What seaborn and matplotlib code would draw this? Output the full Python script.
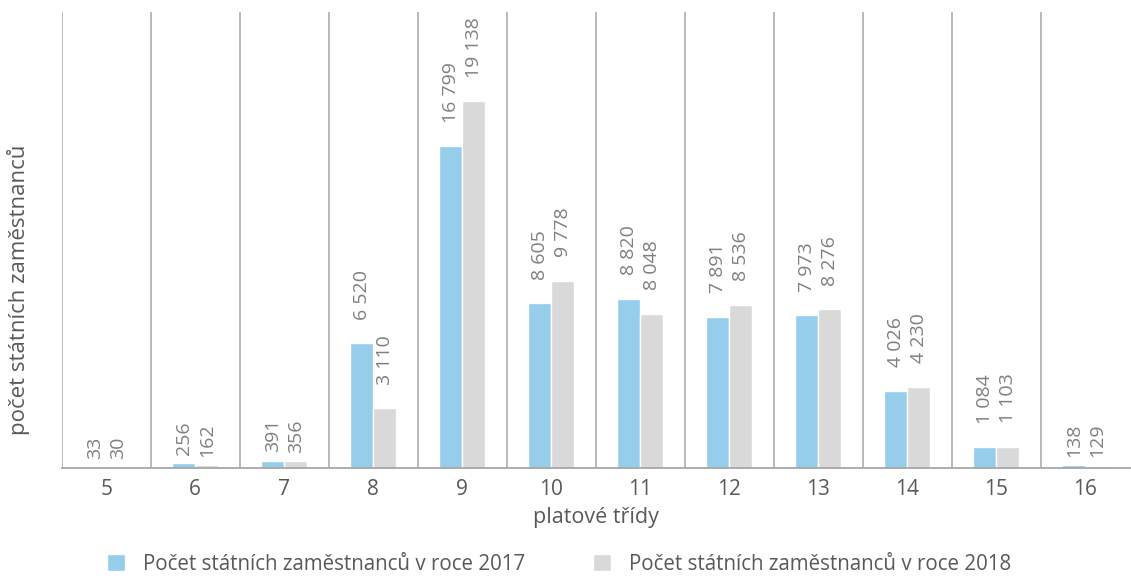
import matplotlib
matplotlib.use("Agg")
import matplotlib.pyplot as plt
import seaborn as sns
import pandas as pd

## data
tridy = ['5', '6', '7', '8', '9', '10', '11', '12', '13', '14', '15', '16']
pocet_2017 = [33, 256, 391, 6520, 16799, 8605, 8820, 7891, 7973, 4026, 1084, 138]
pocet_2018 = [30, 162, 356, 3110, 19138, 9778, 8048, 8536, 8276, 4230, 1103, 129]
serie = ['Počet státních zaměstnanců v roce 2017', 'Počet státních zaměstnanců v roce 2018']

df = pd.DataFrame({
    'trida': tridy * 2,
    'pocet': pocet_2017 + pocet_2018,
    'rok': [serie[0]] * len(tridy) + [serie[1]] * len(tridy),
})

sns.set_style("white")
plt.rcParams['font.family'] = ['Open Sans', 'DejaVu Sans']

text_col = '#595959'
line_col = '#a6a6a6'

fig = plt.figure(figsize=(11.31, 5.79), dpi=100)
ax = fig.add_axes([0.0545, 0.1917, 0.9445, 0.7873])

sns.barplot(data=df, x='trida', y='pocet', hue='rok', order=tridy, hue_order=serie,
            palette=['#95cdea', '#d9d9d9'], width=0.52, gap=0, ax=ax, saturation=1)

## value labels, rotated; longer labels sit a bit higher like in excel
for cont in ax.containers:
    for bar, v in zip(cont, cont.datavalues):
        lab = '{:,}'.format(int(v)).replace(',', ' ')
        pad = 6 if len(lab) <= 3 else 17
        ax.annotate(lab, (bar.get_x() + bar.get_width() / 2, bar.get_height()),
                    xytext=(0, pad), textcoords='offset points', rotation=90,
                    ha='center', va='bottom', fontsize=14, color='#7f7f7f')

## separators between groups
for i in range(len(tridy)):
    ax.axvline(i - 0.5, color=line_col, linewidth=1.1, zorder=0)

ax.set_xlim(-0.5, len(tridy) - 0.5)
ax.set_ylim(0, 23800)
ax.set_yticks([])
for s in ['top', 'right', 'left']:
    ax.spines[s].set_visible(False)
ax.spines['bottom'].set_color(line_col)
ax.spines['bottom'].set_linewidth(1.3)

ax.tick_params(axis='x', length=0, pad=8, labelsize=15, labelcolor=text_col)
ax.set_xlabel('platové třídy', fontsize=15.5, color=text_col, labelpad=5)
ax.set_ylabel('počet státních zaměstnanců', fontsize=16, color=text_col)
ax.yaxis.set_label_coords(-0.03, 0.39)

ax.get_legend().remove()
handles, labels = ax.get_legend_handles_labels()
fig.legend(handles, labels, loc='lower center', ncol=2, frameon=False,
           bbox_to_anchor=(0.494, -0.025), fontsize=14.8, labelcolor=text_col,
           handlelength=0.9, handleheight=0.9, handletextpad=0.85, columnspacing=3.3)

plt.savefig('out.png', dpi=100)
